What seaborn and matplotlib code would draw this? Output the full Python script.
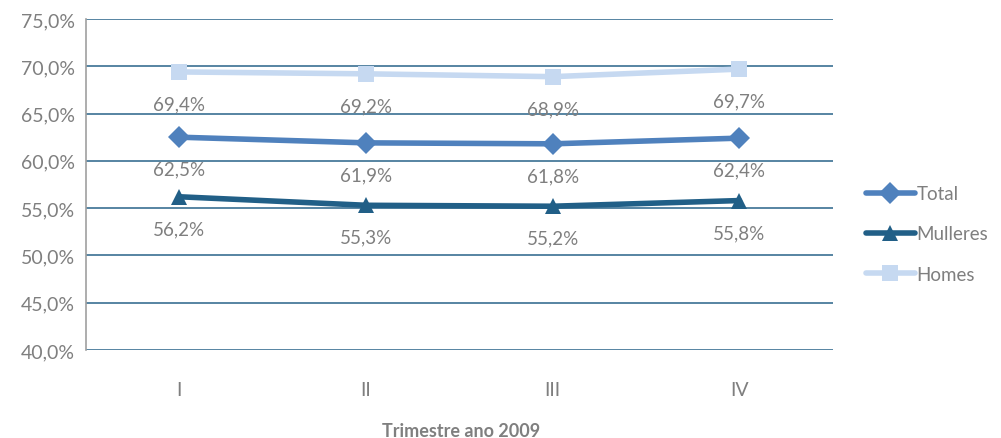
import pandas as pd
import matplotlib.pyplot as plt
import seaborn as sns
from matplotlib.ticker import FuncFormatter

# Data
quarters = ['I', 'II', 'III', 'IV']
total = [62.5, 61.9, 61.8, 62.4]
mulleres = [56.2, 55.3, 55.2, 55.8]
homes = [69.4, 69.2, 68.9, 69.7]
series = ['Total', 'Mulleres', 'Homes']

colors = {'Total': '#4F81BD', 'Mulleres': '#215F87', 'Homes': '#C6D9F1'}
markers = {'Total': 'D', 'Mulleres': '^', 'Homes': 's'}
grey = '#7F7F7F'

df = pd.DataFrame({
    'Trimestre': quarters * 3,
    'pos': list(range(4)) * 3,
    'valor': total + mulleres + homes,
    'serie': [s for s in series for _ in quarters],
})

sns.set_style('white')
plt.rcParams['font.family'] = ['Lato', 'DejaVu Sans']

fig = plt.figure(figsize=(10.01, 4.39), dpi=100)
ax = fig.add_axes([0.086, 0.2005, 0.746, 0.754])

sns.lineplot(data=df, x='pos', y='valor', hue='serie', style='serie',
             hue_order=series, style_order=series, palette=colors,
             markers=markers, dashes=False, linewidth=4, markersize=11,
             markeredgewidth=0, ax=ax, legend=True)

# data labels below each point
for _, r in df.iterrows():
    ax.annotate(f"{r['valor']:.1f}%".replace('.', ','), (r['pos'], r['valor']),
                xytext=(0, -32), textcoords='offset pixels', ha='center',
                va='center', fontsize=13.5, color=grey)

ax.set_xlim(-0.5, 3.5)
ax.set_ylim(40, 75)
ax.set_yticks(range(40, 76, 5))
ax.yaxis.set_major_formatter(FuncFormatter(lambda v, _: f"{v:.1f}%".replace('.', ',')))
ax.set_xticks(range(4))
ax.set_xticklabels(quarters)
ax.tick_params(axis='both', length=0, labelsize=14, labelcolor=grey)
ax.tick_params(axis='x', pad=22)
ax.tick_params(axis='y', pad=8)

ax.grid(axis='y', color='#3A6F92', linewidth=1.2)
ax.set_axisbelow(True)
for s in ['top', 'right', 'bottom']:
    ax.spines[s].set_visible(False)
ax.spines['left'].set_color('#A0A0A0')
ax.spines['left'].set_linewidth(1.2)

ax.set_xlabel('')
ax.set_ylabel('')
fig.text(461 / 1001, 1 - 432 / 439, 'Trimestre ano 2009', fontsize=13,
         fontweight='bold', color=grey, ha='center', va='center')

handles, labels = ax.get_legend_handles_labels()
ax.get_legend().remove()
leg = fig.legend(handles, labels, loc='center left',
                 bbox_to_anchor=(866 / 1001, 1 - 235 / 439), frameon=False,
                 fontsize=13.5, labelspacing=1.25, handlelength=2.6,
                 handletextpad=0.1, borderaxespad=0, borderpad=0)
for t in leg.get_texts():
    t.set_color(grey)

fig.savefig('out.png', dpi=100)
